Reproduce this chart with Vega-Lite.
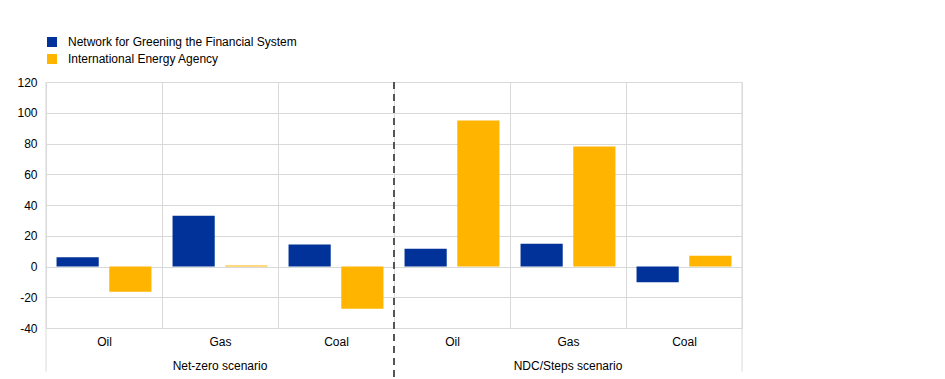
{
  "$schema": "https://vega.github.io/schema/vega-lite/v6.json",
  "width": 696,
  "height": 246,
  "autosize": {"type": "none"},
  "padding": {"left": 46, "top": 82, "right": 203, "bottom": 51},
  "config": {
    "font": "Liberation Sans",
    "view": {"stroke": null},
    "axis": {
      "labelFont": "Liberation Sans",
      "labelFontSize": 12,
      "labelColor": "#000000",
      "gridColor": "#d9d9d9",
      "gridWidth": 1,
      "domain": false,
      "ticks": false,
      "title": null
    },
    "axisY": {"labelOverlap": false, "labelPadding": 9},
    "legend": {"labelFont": "Liberation Sans", "labelFontSize": 12, "labelColor": "#000000"}
  },
  "datasets": {
    "bars": [
      {"scenario": "Net-zero scenario", "key": "NZ|Oil", "series": "Network for Greening the Financial System", "value": 6},
      {"scenario": "Net-zero scenario", "key": "NZ|Oil", "series": "International Energy Agency", "value": -16.5},
      {"scenario": "Net-zero scenario", "key": "NZ|Gas", "series": "Network for Greening the Financial System", "value": 33},
      {"scenario": "Net-zero scenario", "key": "NZ|Gas", "series": "International Energy Agency", "value": 0.7},
      {"scenario": "Net-zero scenario", "key": "NZ|Coal", "series": "Network for Greening the Financial System", "value": 14.3},
      {"scenario": "Net-zero scenario", "key": "NZ|Coal", "series": "International Energy Agency", "value": -27.5},
      {"scenario": "NDC/Steps scenario", "key": "NDC|Oil", "series": "Network for Greening the Financial System", "value": 11.5},
      {"scenario": "NDC/Steps scenario", "key": "NDC|Oil", "series": "International Energy Agency", "value": 95},
      {"scenario": "NDC/Steps scenario", "key": "NDC|Gas", "series": "Network for Greening the Financial System", "value": 14.8},
      {"scenario": "NDC/Steps scenario", "key": "NDC|Gas", "series": "International Energy Agency", "value": 78},
      {"scenario": "NDC/Steps scenario", "key": "NDC|Coal", "series": "Network for Greening the Financial System", "value": -10.3},
      {"scenario": "NDC/Steps scenario", "key": "NDC|Coal", "series": "International Energy Agency", "value": 7}
    ],
    "scen": [
      {"label": "Net-zero scenario", "mid": "NZ|Gas"},
      {"label": "NDC/Steps scenario", "mid": "NDC|Gas"}
    ]
  },
  "layer": [
    {
      "data": {"name": "bars"},
      "mark": {"type": "bar"},
      "encoding": {
        "x": {
          "field": "key",
          "type": "nominal",
          "sort": null,
          "scale": {
            "domain": ["NZ|Oil", "NZ|Gas", "NZ|Coal", "NDC|Oil", "NDC|Gas", "NDC|Coal"],
            "paddingInner": 0,
            "paddingOuter": 0
          },
          "axis": {
            "labelExpr": "split(datum.label, '|')[1]",
            "tickBand": "extent",
            "grid": true,
            "labelAngle": 0,
            "labelPadding": 8
          }
        },
        "xOffset": {
          "field": "series",
          "sort": null,
          "scale": {"paddingInner": 0.2, "paddingOuter": 0.2}
        },
        "y": {
          "field": "value",
          "type": "quantitative",
          "scale": {"domain": [-40, 120], "nice": false, "zero": false},
          "axis": {
            "values": [-40, -20, 0, 20, 40, 60, 80, 100, 120],
            "tickCount": 20,
            "labelExpr": "toString(datum.value)",
            "grid": true
          }
        },
        "color": {
          "field": "series",
          "type": "nominal",
          "sort": null,
          "scale": {"range": ["#003299", "#FFB400"]},
          "legend": {
            "title": null,
            "orient": "none",
            "legendX": 0,
            "legendY": -46,
            "symbolType": "square",
            "symbolSize": 100,
            "symbolStrokeWidth": 0,
            "labelOffset": 10,
            "labelLimit": 500,
            "rowPadding": 5
          }
        }
      }
    },
    {
      "data": {"values": [{}]},
      "mark": {"type": "rule", "color": "#d9d9d9", "strokeWidth": 1},
      "encoding": {
        "x": {"datum": "NZ|Oil", "bandPosition": 0},
        "y": {"datum": 120, "axis": {"values": [-40, -20, 0, 20, 40, 60, 80, 100, 120], "tickCount": 20, "labelExpr": "toString(datum.value)", "grid": true}},
        "y2": {"datum": -68.4}
      }
    },
    {
      "data": {"values": [{}]},
      "mark": {"type": "rule", "color": "#d9d9d9", "strokeWidth": 1},
      "encoding": {
        "x": {"datum": "NDC|Coal", "bandPosition": 1},
        "y": {"datum": 120, "axis": {"values": [-40, -20, 0, 20, 40, 60, 80, 100, 120], "tickCount": 20, "labelExpr": "toString(datum.value)", "grid": true}},
        "y2": {"datum": -68.4}
      }
    },
    {
      "data": {"values": [{}]},
      "mark": {"type": "rule", "color": "#555555", "strokeWidth": 2, "strokeDash": [7, 5]},
      "encoding": {
        "x": {"datum": "NDC|Oil", "bandPosition": 0},
        "y": {"datum": 120, "axis": {"values": [-40, -20, 0, 20, 40, 60, 80, 100, 120], "tickCount": 20, "labelExpr": "toString(datum.value)", "grid": true}},
        "y2": {"datum": -73}
      }
    },
    {
      "data": {"name": "scen"},
      "mark": {"type": "text", "fontSize": 12, "color": "#000000", "baseline": "middle", "align": "center", "font": "Liberation Sans"},
      "encoding": {
        "x": {"field": "mid", "type": "nominal"},
        "y": {"datum": -64.5, "axis": {"values": [-40, -20, 0, 20, 40, 60, 80, 100, 120], "tickCount": 20, "labelExpr": "toString(datum.value)", "grid": true}},
        "text": {"field": "label"}
      }
    }
  ]
}
